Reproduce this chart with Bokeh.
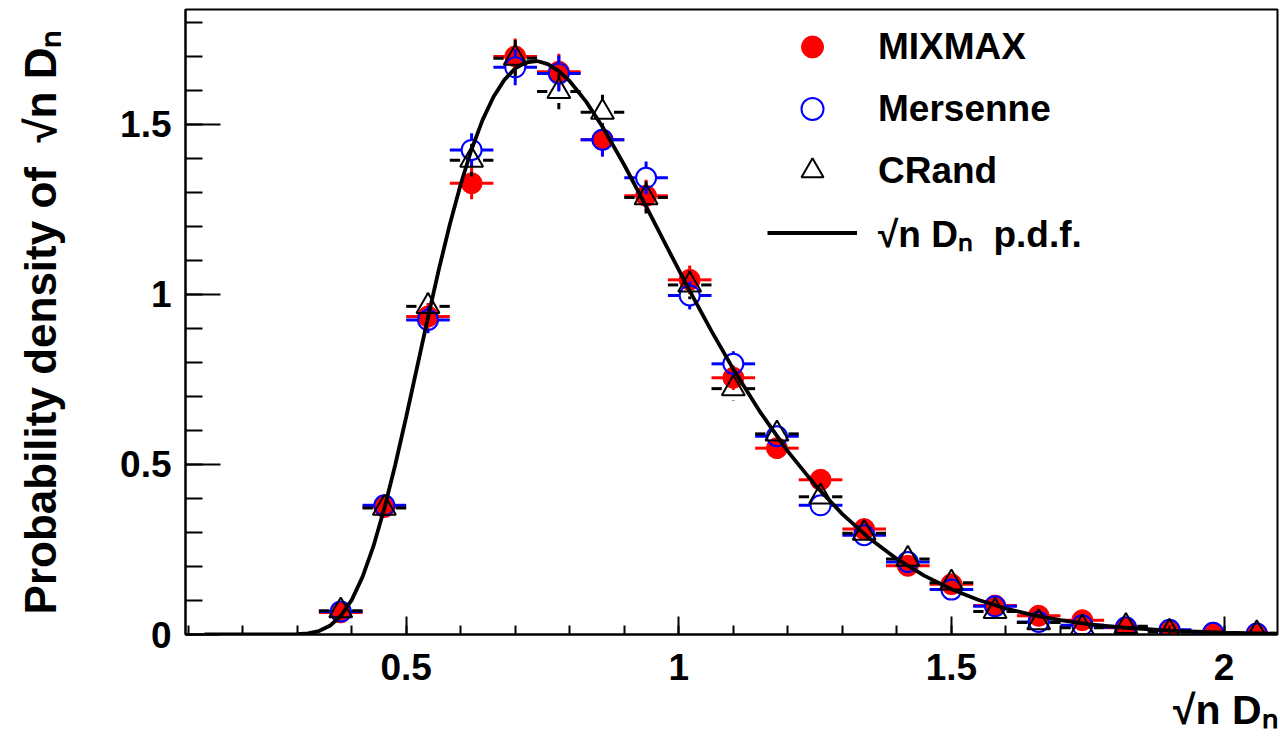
from bokeh.plotting import figure
from bokeh.models import (Range1d, SingleIntervalTicker, PrintfTickFormatter,
                          Legend, LegendItem, Title)
from bokeh.embed import file_html
from bokeh.resources import INLINE

# ---------------- data ----------------
bin_centers = [0.38, 0.46, 0.54, 0.62, 0.70, 0.78, 0.86, 0.94, 1.02, 1.10, 1.18,
               1.26, 1.34, 1.42, 1.50, 1.58, 1.66, 1.74, 1.82, 1.90, 1.98, 2.06]
bin_half_width = 0.04

mixmax = [0.065, 0.375, 0.935, 1.327, 1.700, 1.655, 1.455, 1.290, 1.043, 0.755, 0.548,
          0.455, 0.310, 0.202, 0.148, 0.085, 0.055, 0.042, 0.020, 0.012, 0.005, 0.002]
mixmax_err = [0.010, 0.025, 0.040, 0.047, 0.053, 0.053, 0.049, 0.047, 0.042, 0.036, 0.030,
              0.028, 0.023, 0.018, 0.016, 0.012, 0.010, 0.008, 0.006, 0.004, 0.003, 0.002]

mersenne = [0.068, 0.380, 0.925, 1.425, 1.668, 1.650, 1.455, 1.343, 0.997, 0.796, 0.583,
            0.380, 0.292, 0.213, 0.132, 0.083, 0.037, 0.027, 0.021, 0.014, 0.005, 0.003]
mersenne_err = [0.011, 0.025, 0.039, 0.049, 0.053, 0.053, 0.049, 0.048, 0.041, 0.037, 0.031,
                0.025, 0.022, 0.019, 0.015, 0.012, 0.008, 0.007, 0.006, 0.005, 0.003, 0.002]

crand = [0.070, 0.372, 0.965, 1.395, 1.695, 1.597, 1.536, 1.285, 1.028, 0.723, 0.590,
         0.405, 0.298, 0.222, 0.152, 0.068, 0.035, 0.020, 0.024, 0.007, 0.000, 0.003]
crand_err = [0.011, 0.025, 0.040, 0.048, 0.053, 0.052, 0.051, 0.047, 0.042, 0.035, 0.032,
             0.026, 0.022, 0.019, 0.016, 0.011, 0.008, 0.006, 0.006, 0.003, 0.000, 0.002]

# sqrt(n) D_n p.d.f. curve
pdf_x = [0.13, 0.20, 0.25, 0.28, 0.30, 0.32, 0.34, 0.36, 0.38, 0.40, 0.42, 0.44, 0.46, 0.48,
         0.50, 0.52, 0.54, 0.56, 0.58, 0.60, 0.62, 0.64, 0.66, 0.68, 0.70, 0.72, 0.74, 0.76,
         0.78, 0.80, 0.83, 0.86, 0.90, 0.94, 0.98, 1.02, 1.06, 1.10, 1.15, 1.20, 1.25, 1.30,
         1.35, 1.40, 1.45, 1.50, 1.55, 1.60, 1.65, 1.70, 1.75, 1.80, 1.90, 2.00, 2.10]
pdf_y = [0.0, 0.0, 0.0, 0.0001, 0.0008, 0.0033, 0.0102, 0.0256, 0.0544, 0.1012, 0.1694,
         0.2598, 0.3710, 0.4992, 0.6396, 0.7860, 0.9327, 1.0740, 1.2057, 1.3241, 1.4269,
         1.5126, 1.5805, 1.6310, 1.6647, 1.6828, 1.6865, 1.6774, 1.6570, 1.6271, 1.5671,
         1.4934, 1.3807, 1.2589, 1.1340, 1.0107, 0.8921, 0.7803, 0.6523, 0.5385, 0.4392,
         0.3540, 0.2821, 0.2222, 0.1731, 0.1333, 0.1015, 0.0765, 0.0570, 0.0420, 0.0306,
         0.0221, 0.0111, 0.0054, 0.0025]

series_names = ["MIXMAX", "Mersenne", "CRand"]
pdf_label = "\u221an D\u2099\u00a0\u00a0p.d.f."
x_title = "\u221an D\u2099"
y_title = "Probability density of\u00a0\u00a0\u221an D\u2099"
x_ticks_interval = 0.5
y_ticks_interval = 0.5

# ---------------- layout ----------------
W, H = 1280, 739
LEFT, RIGHT, TOP, BOTTOM = 185, 3, 9, 105
X0, X1 = 0.0953, 2.098
Y0, Y1 = 0.0, 1.838
FONT = "Liberation Sans"

p = figure(width=W, height=H, output_backend="svg", toolbar_location=None,
           x_range=Range1d(X0, X1), y_range=Range1d(Y0, Y1),
           min_border_left=LEFT, min_border_right=RIGHT,
           min_border_top=TOP, min_border_bottom=BOTTOM,
           background_fill_color="white", border_fill_color="white")
p.xgrid.visible = False
p.ygrid.visible = False
p.outline_line_color = "black"
p.outline_line_width = 2

fw = W - LEFT - RIGHT
fh = H - TOP - BOTTOM
px_x = fw / (X1 - X0)
px_y = fh / (Y1 - Y0)

for ax, mt, nt, stand in ((p.xaxis, 18, 9, 19), (p.yaxis, 35, 17, 14)):
    ax.axis_line_width = 2
    ax.major_tick_in = mt
    ax.major_tick_out = 0
    ax.minor_tick_in = nt
    ax.minor_tick_out = 0
    ax.major_tick_line_width = 2
    ax.minor_tick_line_width = 2
    ax.major_label_text_font = FONT
    ax.major_label_text_font_style = "bold"
    ax.major_label_text_font_size = "37px"
    ax.major_label_text_color = "black"
    ax.major_label_standoff = stand
    ax.formatter = PrintfTickFormatter(format="%g")
    ax.axis_label_text_font = FONT
    ax.axis_label_text_font_style = "bold"
    ax.axis_label_text_color = "black"
p.xaxis.ticker = SingleIntervalTicker(interval=x_ticks_interval, num_minor_ticks=5)
p.yaxis.ticker = SingleIntervalTicker(interval=y_ticks_interval, num_minor_ticks=5)

p.yaxis.axis_label = y_title
p.yaxis.axis_label_text_font_size = "44px"
p.yaxis.axis_label_standoff = 52

# x-axis title: right-aligned under the end of the axis (ROOT style)
p.add_layout(Title(text=x_title, align="right", text_font=FONT,
                   text_font_style="bold", text_font_size="41px",
                   text_color="black", standoff=5, offset=0), "below")

# ---------------- error bars + markers ----------------
def draw_series(vals, errs, color, marker, size, fill, lw):
    r_px = size / 2.0
    gx = r_px / px_x
    gy = r_px / px_y
    xs0, ys0, xs1, ys1 = [], [], [], []
    px, py = [], []
    for c, v, e in zip(bin_centers, vals, errs):
        if v <= 0:
            continue
        px.append(c)
        py.append(v)
        # horizontal bars (gap where the marker sits)
        xs0 += [c - bin_half_width, c + gx]
        xs1 += [c - gx, c + bin_half_width]
        ys0 += [v, v]
        ys1 += [v, v]
        if e > gy:
            xs0 += [c, c]
            xs1 += [c, c]
            ys0 += [v + gy, v - e]
            ys1 += [v + e, v - gy]
    p.segment(xs0, ys0, xs1, ys1, line_color=color, line_width=3, line_cap="butt")
    return p.scatter(px, py, marker=marker, size=size, fill_color=fill,
                     line_color=color, line_width=lw)

r_mix = draw_series(mixmax, mixmax_err, "#ff0000", "circle", 21, "#ff0000", 1)
r_mer = draw_series(mersenne, mersenne_err, "#0000ff", "circle", 20, None, 2)
r_cr = draw_series(crand, crand_err, "black", "triangle", 23, None, 2)

r_pdf = p.line(pdf_x, pdf_y, line_color="black", line_width=3.8)

# ---------------- legend ----------------
legend = Legend(items=[LegendItem(label=series_names[0], renderers=[r_mix]),
                       LegendItem(label=series_names[1], renderers=[r_mer]),
                       LegendItem(label=series_names[2], renderers=[r_cr]),
                       LegendItem(label=pdf_label, renderers=[r_pdf])],
                location=(582, 374), glyph_width=90, glyph_height=55, spacing=7,
                label_standoff=21, padding=0, margin=0,
                border_line_alpha=0, background_fill_alpha=0,
                label_text_font=FONT, label_text_font_style="bold",
                label_text_font_size="37px", label_text_color="black")
p.add_layout(legend)

open("out.html", "w").write(file_html(p, INLINE))
